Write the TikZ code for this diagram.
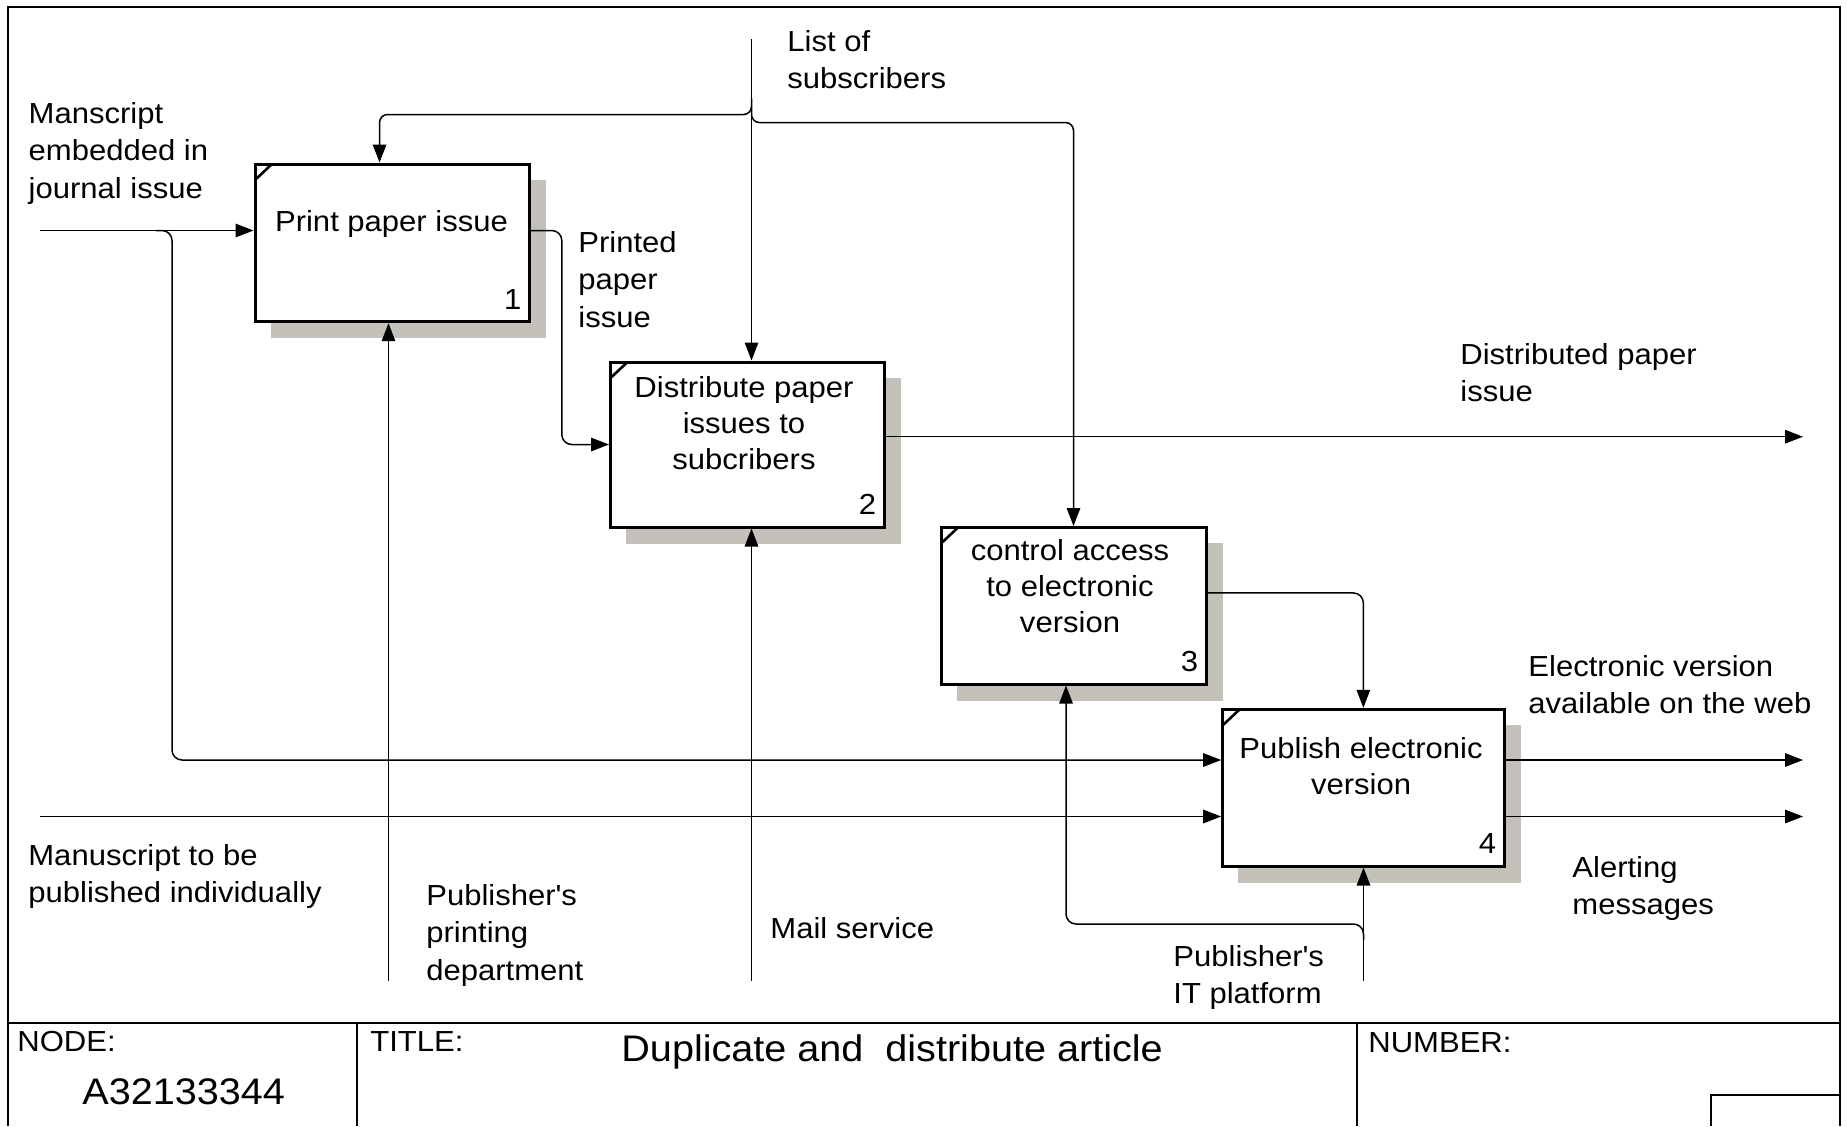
\documentclass[tikz,border=0pt]{standalone}
\usepackage{fontspec}
\setmainfont{Liberation Sans}[FakeStretch=1.07]
\usetikzlibrary{arrows.meta,backgrounds}
\definecolor{shd}{RGB}{196,193,186}
\newcommand\myLblFont{\fontsize{14.5pt}{18.75pt}\selectfont}
\newcommand\myBoxFont{\fontsize{14.5pt}{18pt}\selectfont}
\newcommand\myBigFont{\fontsize{18.5pt}{22pt}\selectfont}
\begin{document}
\begin{tikzpicture}[x=0.5pt,y=-0.5pt,
  box/.style={draw,line width=1.5pt,fill=white,inner sep=0pt},
  arr/.style={line width=0.75pt,-{Triangle[length=9pt,width=6.75pt]}},
  lbl/.style={anchor=north west,inner sep=0pt,align=left,font=\myLblFont},
  btxt/.style={anchor=north,inner sep=0pt,align=center,font=\myBoxFont},
  num/.style={anchor=base east,inner sep=0pt,font=\myBoxFont},
  ttl/.style={anchor=base west,inner sep=0pt,font=\myLblFont},
  frm/.style={line width=0.9pt},
  tickln/.style={line width=1.3pt}]
\useasboundingbox (0,0) rectangle (1847,1126);
% frame and title block
\draw[frm] (8,1126) -- (8,7) -- (1840,7) -- (1840,1126);
\draw[frm] (8,1023) -- (1840,1023);
\draw[frm] (357,1023) -- (357,1126);
\draw[frm] (1357,1023) -- (1357,1126);
\draw[frm] (1711,1126) -- (1711,1095) -- (1840,1095);
\node[ttl] (nodel) at (17,1051.7) {NODE:};
\node[ttl] (titlel) at (370,1051.7) {TITLE:};
\node[ttl] (numl) at (1368,1052) {NUMBER:};
\node[ttl,font=\myBigFont] (nodev) at (82,1104.3) {A32133344};
\node[ttl,font=\myBigFont] (titlev) at (621,1061.7) {Duplicate and\ \ distribute article};
% boxes
\node[box,minimum width=137.15pt,minimum height=78.85pt] (b1) at (392.15,242.85) {};
\node[box,minimum width=136.75pt,minimum height=82.5pt] (b2) at (747.25,444.5) {};
\node[box,minimum width=132.5pt,minimum height=78.25pt] (b3) at (1073.5,605.75) {};
\node[box,minimum width=140.65pt,minimum height=78.35pt] (b4) at (1363.35,787.65) {};
\begin{scope}[on background layer]
\foreach \b in {b1,b2,b3,b4}
  \fill[shd] ([shift={(17,17)}]\b.north west) rectangle ([shift={(15,15)}]\b.south east);
\end{scope}
\foreach \b in {b1,b2,b3,b4}
  \draw[tickln] ([shift={(1.5,17.5)}]\b.north west) -- ([shift={(18.5,1.5)}]\b.north west);
\node[btxt] (t1) at (391.5,210) {Print paper issue};
\node[btxt] (t2) at (744,376) {Distribute paper\\issues to\\subcribers};
\node[btxt] (t3) at (1070,539) {control access\\to electronic\\version};
\node[btxt] (t4) at (1361,737.5) {Publish electronic\\version};
\node[num] (n1) at ([shift={(-9,-14)}]b1.south east) {1};
\node[num] (n2) at ([shift={(-9,-14)}]b2.south east) {2};
\node[num] (n3) at ([shift={(-9,-14)}]b3.south east) {3};
\node[num] (n4) at ([shift={(-9,-14)}]b4.south east) {4};
% labels
\node[lbl] (l1) at (28.3,102) {Manscript\\embedded in\\journal issue};
\node[lbl] (l2) at (28,844) {Manuscript to be\\published individually};
\node[lbl] (l3) at (787,30) {List of\\subscribers};
\node[lbl] (l4) at (578,231) {Printed\\paper\\issue};
\node[lbl] (l5) at (426,884) {Publisher\textquotesingle s\\printing\\department};
\node[lbl] (l6) at (770,917) {Mail service};
\node[lbl] (l7) at (1460,343) {Distributed paper\\issue};
\node[lbl] (l8) at (1528,655) {Electronic version\\available on the web};
\node[lbl] (l9) at (1572,856) {Alerting\\messages};
\node[lbl] (l10) at (1173,945) {Publisher\textquotesingle s\\IT platform};
% free ends and junctions
\coordinate (in1) at (40,230.5);
\coordinate (in2) at (40,816.5);
\coordinate (j1) at (172,230.5);
\coordinate (j2) at (172,760);
\coordinate (ls) at (751.5,39);
\coordinate (j3) at (751.5,114.5);
\coordinate (j4) at (751.5,122.5);
\coordinate (o2) at (1803,436.7);
\coordinate (o4a) at (1803,760);
\coordinate (o4b) at (1803,816.5);
\coordinate (m1) at (388.5,981);
\coordinate (m2) at (751.5,981);
\coordinate (m4) at (1363.5,981);
\coordinate (j5) at (1363.5,924);
% inputs
\draw[arr] (in1) -- (b1.west |- in1);
\draw[arr,rounded corners=5pt] ([xshift=-8pt]j1) -- (j1) -- (j2) -- (b4.west |- j2);
\draw[arr] (in2) -- (b4.west |- in2);
% controls
\draw[arr] (ls) -- (ls |- b2.north);
\draw[arr,rounded corners=4pt] ([yshift=8pt]j3) -- (j3) -| ([xshift=-6.3pt]b1.north);
\draw[arr,rounded corners=4pt] ([yshift=8pt]j4) -- (j4) -| (b3.north);
% outputs
\draw[arr,rounded corners=5pt] (b1.east |- in1) -- ++(31,0) |- (b2.west);
\draw[arr] (b2.east |- o2) -- (o2);
\draw[arr,rounded corners=5pt] ([yshift=6.4pt]b3.east) -| (b4.north);
\draw[arr] (b4.east |- o4a) -- (o4a);
\draw[arr] (b4.east |- o4b) -- (o4b);
% mechanisms
\draw[arr] (m1) -- (m1 |- b1.south);
\draw[arr] (m2) -- (m2 |- b2.south);
\draw[arr] (m4) -- (m4 |- b4.south);
\draw[arr,rounded corners=5pt] ([yshift=-8pt]j5) -- (j5) -| ([xshift=-3.75pt]b3.south);
\end{tikzpicture}
\end{document}
